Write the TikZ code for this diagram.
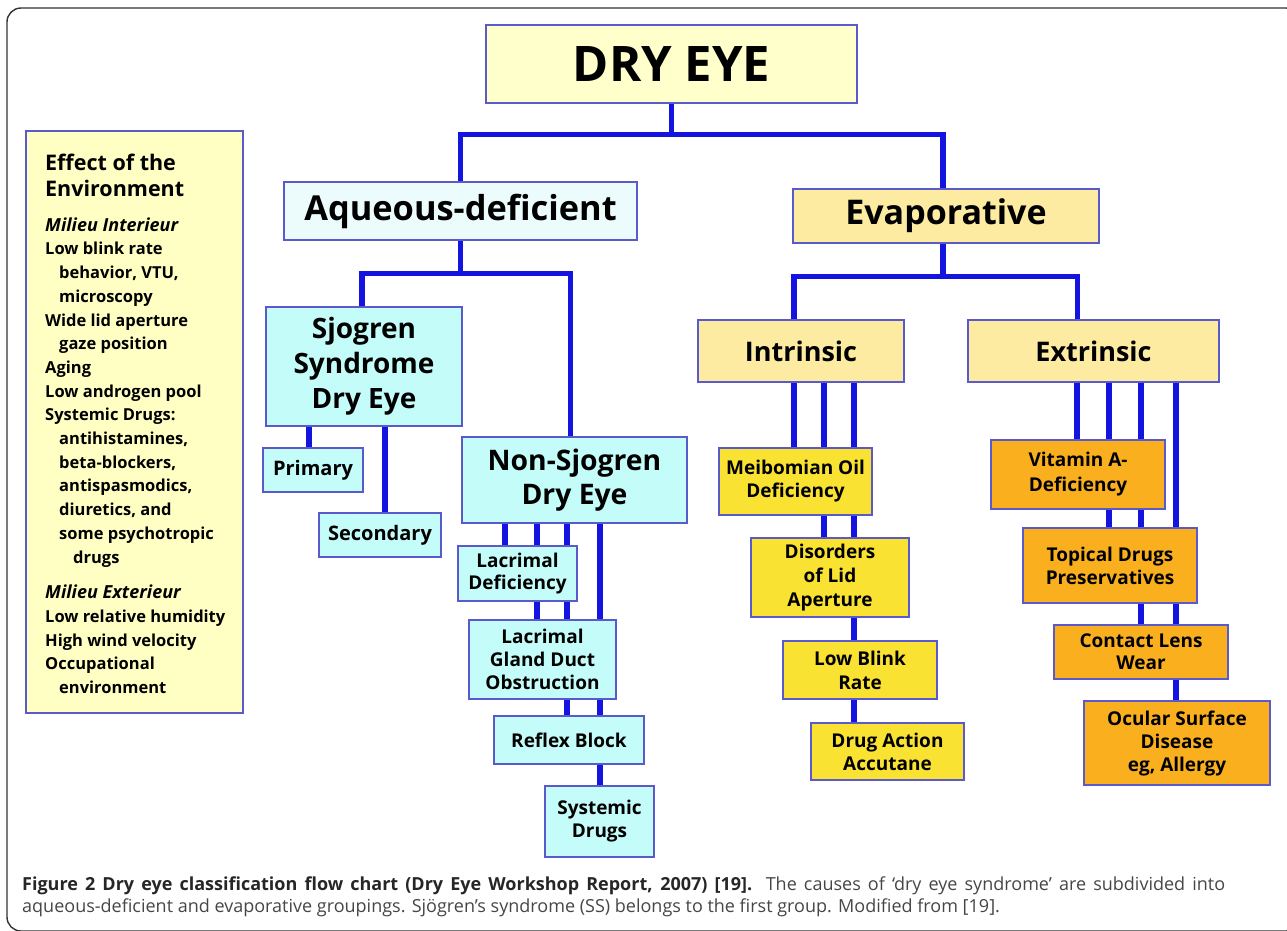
\documentclass[tikz,border=0pt]{standalone}
\usepackage{fontspec}
\setmainfont{Open Sans}
\usetikzlibrary{backgrounds}

\definecolor{linkblue}{RGB}{20,20,225}
\definecolor{boxline}{RGB}{90,90,205}
\definecolor{pale}{RGB}{255,255,204}
\definecolor{aquapale}{RGB}{236,252,252}
\definecolor{aqua}{RGB}{195,252,248}
\definecolor{sand}{RGB}{252,235,160}
\definecolor{lemon}{RGB}{250,226,50}
\definecolor{amber}{RGB}{250,176,30}
\definecolor{envfill}{RGB}{255,255,196}
\definecolor{capgray}{RGB}{70,70,70}

\tikzset{
	box/.style={draw=boxline, line width=1.3pt, align=center, inner sep=0pt},
	sz/.style 2 args={minimum width=#1pt, minimum height=#2pt},
	fs/.style 2 args={font=\bfseries\fontsize{#1}{#2}\selectfont},
	link/.style={draw=linkblue, line width=5.5pt},
}

\newcommand{\envtitle}{\fontsize{21.5}{26}\selectfont}
\newcommand{\milieu}[1]{{\itshape\fontsize{18}{23.7}\selectfont #1}}

\begin{document}
\begin{tikzpicture}[x=1pt, y=-1pt]
	\useasboundingbox (0,0) rectangle (1287,930);
	\draw[black!80, line width=1.4pt, rounded corners=14pt] (7,8) rectangle (1300,931);

	% main branches
	\node[box, fill=pale, sz={371}{78}, fs={49}{50}] (dryeye) at (671.5,64) {DRY EYE};
	\node[box, fill=aquapale, sz={353}{58}, fs={34.4}{40}] (aqueous) at (460.5,211) {Aqueous-deficient};
	\node[box, fill=sand, sz={306}{54}, fs={34}{40}] (evap) at (946,216) {Evaporative};

	% aqueous-deficient side
	\node[box, fill=aqua, sz={196}{119}, fs={28}{35}] (sjogren) at (364,366.5) {Sjogren\\Syndrome\\Dry Eye};
	\node[box, fill=aqua, sz={100}{44}, fs={20}{23}] (primary) at (313,470) {Primary};
	\node[box, fill=aqua, sz={122}{44}, fs={20}{23}] (secondary) at (380,535) {Secondary};
	\node[box, fill=aqua, sz={225}{86}, fs={28.3}{34}] (nonsj) at (574.5,480) {Non-Sjogren\\Dry Eye};
	\node[box, fill=aqua, sz={119}{55}, fs={19}{22}] (lacdef) at (517.5,573.5) {Lacrimal\\Deficiency};
	\node[box, fill=aqua, sz={147}{79}, fs={19}{23}] (lacgland) at (542.5,659.5) {Lacrimal\\Gland Duct\\Obstruction};
	\node[box, fill=aqua, sz={150}{48}, fs={19}{23}] (reflex) at (569,740) {Reflex Block};
	\node[box, fill=aqua, sz={109}{71}, fs={19}{23}] (sysdrug) at (599.5,821.5) {Systemic\\Drugs};

	% evaporative side
	\node[box, fill=sand, sz={206}{62}, fs={27}{30}] (intrinsic) at (801,351) {Intrinsic};
	\node[box, fill=sand, sz={251}{62}, fs={27}{30}] (extrinsic) at (1093.5,351) {Extrinsic};
	\node[box, fill=lemon, sz={153}{67}, fs={19}{23}] (meibom) at (795.5,481.5) {Meibomian Oil\\Deficiency};
	\node[box, fill=lemon, sz={158}{79}, fs={19}{24}] (lid) at (830,577.5) {Disorders\\of Lid\\Aperture};
	\node[box, fill=lemon, sz={154}{58}, fs={19}{24}] (blink) at (860,670) {Low Blink\\Rate};
	\node[box, fill=lemon, sz={153}{57}, fs={19}{23}] (drug) at (887.5,751.5) {Drug Action\\Accutane};
	\node[box, fill=amber, sz={174}{69}, fs={19}{25}] (vita) at (1078,474.5) {Vitamin A-\\Deficiency};
	\node[box, fill=amber, sz={174}{75}, fs={19}{23}] (topical) at (1110,565.5) {Topical Drugs\\Preservatives};
	\node[box, fill=amber, sz={174}{54}, fs={19}{22}] (contact) at (1141,652) {Contact Lens\\Wear};
	\node[box, fill=amber, sz={186}{84}, fs={19}{23}] (ocular) at (1177,743) {Ocular Surface\\Disease\\eg, Allergy};

	% environment panel
	\node[box, fill=envfill, sz={217}{582}] (env) at (134.5,422) {};
	\node[anchor=west, align=left, inner sep=0pt, font=\bfseries\fontsize{16.5}{23.7}\selectfont] (envlist) at (45,424) {%
		\envtitle Effect of the\\[2pt]
		\envtitle Environment\\[11pt]
		\milieu{Milieu Interieur}\\
		Low blink rate\\
		\hspace*{14pt}behavior, VTU,\\
		\hspace*{14pt}microscopy\\
		Wide lid aperture\\
		\hspace*{14pt}gaze position\\
		Aging\\
		Low androgen pool\\
		Systemic Drugs:\\
		\hspace*{14pt}antihistamines,\\
		\hspace*{14pt}beta-blockers,\\
		\hspace*{14pt}antispasmodics,\\
		\hspace*{14pt}diuretics, and\\
		\hspace*{14pt}some psychotropic\\
		\hspace*{28pt}drugs\\[12pt]
		\milieu{Milieu Exterieur}\\
		Low relative humidity\\
		High wind velocity\\
		Occupational\\
		\hspace*{14pt}environment};

	% connectors
	\begin{scope}[on background layer]
		\draw[link] (dryeye.south) -- ++(0,31) -| (aqueous.north);
		\draw[link] (dryeye.south) -- ++(0,31) -| ([xshift=-3pt]evap.north);
		\draw[link] (aqueous.south) -- ++(0,33) -| ([xshift=-2pt]sjogren.north);
		\draw[link] (aqueous.south) -- ++(0,33) -| ([xshift=-4pt]nonsj.north);
		\draw[link] ([xshift=-3pt]evap.south) -- ++(0,33) -| ([xshift=-7pt]intrinsic.north);
		\draw[link] ([xshift=-3pt]evap.south) -- ++(0,33) -| ([xshift=-16pt]extrinsic.north);
		\foreach \from/\to/\dx in {sjogren/primary/-4, sjogren/secondary/5,
			nonsj/lacdef/-12.5, nonsj/lacgland/-5.5, nonsj/reflex/-2, nonsj/sysdrug/0.5,
			intrinsic/meibom/-1.5, intrinsic/lid/-6, intrinsic/blink/-6, blink/drug/-33.5,
			extrinsic/vita/-1, extrinsic/topical/-1, extrinsic/contact/0, extrinsic/ocular/-1}
			\draw[link] ([xshift=\dx pt]\to.north) -- ([xshift=\dx pt]\to.north |- \from.south);
	\end{scope}

	% caption
	\node[anchor=base west, inner sep=0pt, text=capgray, font=\fontsize{18}{20}\selectfont] (cap1) at (22,890)
		{\makebox[1203pt][s]{\textcolor{black!85}{\bfseries Figure 2 Dry eye classification flow chart (Dry Eye Workshop Report, 2007) [19].} The causes of ‘dry eye syndrome’ are subdivided into}};
	\node[anchor=base west, inner sep=0pt, text=capgray, font=\fontsize{18}{20}\selectfont] (cap2) at (22,912)
		{aqueous-deficient and evaporative groupings. Sjögren’s syndrome (SS) belongs to the first group. Modified from [19].};
\end{tikzpicture}
\end{document}
